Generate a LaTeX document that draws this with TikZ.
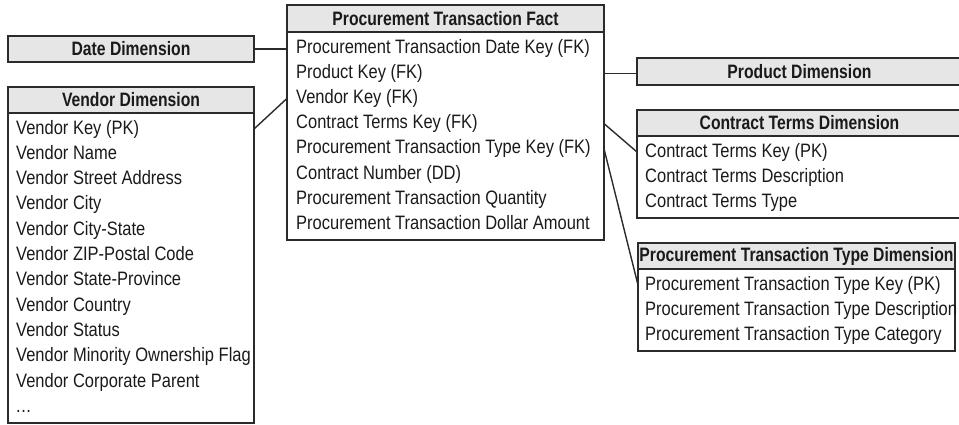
\documentclass[tikz,border=0pt]{standalone}
\usepackage{fontspec}
\setmainfont{Liberation Sans}[FakeStretch=0.85]
\newfontfamily\hdrfont{Liberation Sans}[FakeStretch=0.81]
\definecolor{linec}{HTML}{2B2B2B}
\definecolor{hdrc}{HTML}{E6E6E6}
\definecolor{txtc}{HTML}{1A1A1A}
\begin{document}
\begin{tikzpicture}[x=1pt,y=-1pt,
  box/.style={draw=linec, line width=1.4pt, inner sep=0pt, outer sep=0pt},
  hdr/.style={box, fill=hdrc, font=\hdrfont\bfseries\fontsize{19.4pt}{22pt}\selectfont, text=txtc},
  row/.style={anchor=west, inner sep=0pt, font=\fontsize{19.4pt}{22pt}\selectfont, text=txtc, text height=14pt, text depth=4pt},
  link/.style={draw=linec, line width=1.4pt}]
\useasboundingbox (0,0) rectangle (959,424);

% Date Dimension
\node[hdr, minimum width=246pt, minimum height=26pt] (date) at (131,49) {Date Dimension};

% Vendor Dimension
\node[hdr, minimum width=246pt, minimum height=26pt] (vhdr) at (131,100) {Vendor Dimension};
\node[box, minimum width=246pt, minimum height=310pt] (vbody) at (131,268) {};
\foreach \t [count=\i] in {Vendor Key (PK), Vendor Name, Vendor Street Address, Vendor City, Vendor City-State, Vendor ZIP-Postal Code, Vendor State-Province, Vendor Country, Vendor Status, Vendor Minority Ownership Flag, Vendor Corporate Parent}
  \node[row] (vr\i) at (16,{129+(\i-1)*25.3}) {\t};
\node[row] (vr12) at (16,{129+11*25.3}) {.\kern0.5pt.\kern0.5pt.};

% Fact
\node[hdr, minimum width=317pt, minimum height=27pt] (fhdr) at (445.5,18.5) {Procurement Transaction Fact};
\node[box, minimum width=317pt, minimum height=208pt] (fbody) at (445.5,136) {};
\foreach \t [count=\i] in {Procurement Transaction Date Key (FK), Product Key (FK), Vendor Key (FK), Contract Terms Key (FK), Procurement Transaction Type Key (FK), Contract Number (DD), Procurement Transaction Quantity, Procurement Transaction Dollar Amount}
  \node[row] (fr\i) at (296,{48+(\i-1)*25.2}) {\t};

% Product Dimension
\node[hdr, minimum width=325pt, minimum height=27pt] (prod) at (799.5,71.5) {Product Dimension};

% Contract Terms Dimension
\node[hdr, minimum width=325pt, minimum height=26pt] (chdr) at (799.5,123) {Contract Terms Dimension};
\node[box, minimum width=325pt, minimum height=82pt] (cbody) at (799.5,177) {};
\foreach \t [count=\i] in {Contract Terms Key (PK), Contract Terms Description, Contract Terms Type}
  \node[row] (cr\i) at (645,{152+(\i-1)*25}) {\t};

% Procurement Transaction Type Dimension
\node[hdr, minimum width=317pt, minimum height=26pt] (phdr) at (796.5,256) {Procurement Transaction Type Dimension};
\node[box, minimum width=317pt, minimum height=82pt] (pbody) at (796.5,310) {};
\foreach \t [count=\i] in {Procurement Transaction Type Key (PK), Procurement Transaction Type Description, Procurement Transaction Type Category}
  \node[row] (pr\i) at (645,{285+(\i-1)*25}) {\t};

% Connectors
\draw[link] (date.east) -- (fbody.west |- date.east);
\draw[link] (vbody.east |- vr1) -- (fbody.west |- fr3);
\draw[link] (fbody.east |- fr2) -- (prod.west |- fr2);
\draw[link] (fbody.east |- fr4) -- (cbody.west |- cr1);
\draw[link] (fbody.east |- fr5) -- (pbody.west |- pr1);
\end{tikzpicture}
\end{document}
